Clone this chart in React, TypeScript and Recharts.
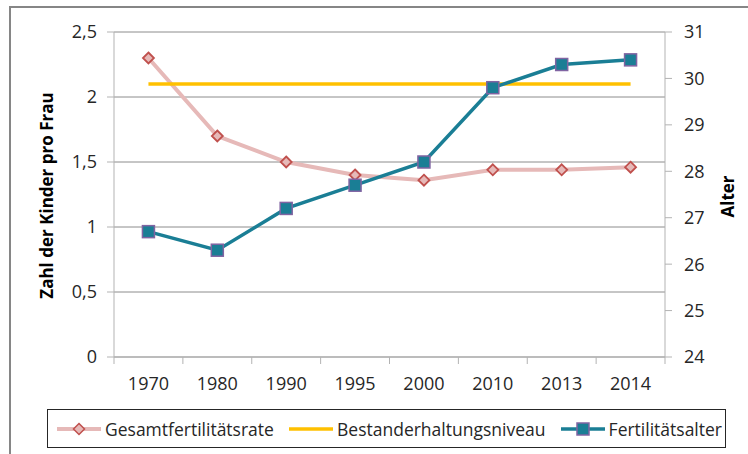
import { ComposedChart, Line, XAxis, YAxis, CartesianGrid } from "recharts";

const years = ["1970", "1980", "1990", "1995", "2000", "2010", "2013", "2014"];
const gesamtfertilitaetsrate = [2.3, 1.7, 1.5, 1.4, 1.36, 1.44, 1.44, 1.46];
const bestanderhaltungsniveau = [2.1, 2.1, 2.1, 2.1, 2.1, 2.1, 2.1, 2.1];
const fertilitaetsalter = [26.7, 26.3, 27.2, 27.7, 28.2, 29.8, 30.3, 30.4];
const leftTicks = [0, 0.5, 1, 1.5, 2, 2.5];
const rightTicks = [24, 25, 26, 27, 28, 29, 30, 31];

const data = years.map((year, i) => ({
  year,
  rate: gesamtfertilitaetsrate[i],
  level: bestanderhaltungsniveau[i],
  age: fertilitaetsalter[i],
}));

const FONT = "'Open Sans', sans-serif";
const PINK = "#E6B9B8";
const RED = "#C0504D";
const YELLOW = "#FFC000";
const TEAL = "#1A7E95";
const PURPLE = "#8064A2";
const AXIS = "#B3B3B3";

const band = 551 / years.length;

const XTick = (props: any) => {
  const { x, y, payload, index } = props;
  return (
    <g>
      <line x1={x - band / 2} x2={x - band / 2} y1={y} y2={y + 7} stroke={AXIS} />
      {index === years.length - 1 && (
        <line x1={x + band / 2} x2={x + band / 2} y1={y} y2={y + 7} stroke={AXIS} />
      )}
      <text x={x} y={y + 33} textAnchor="middle" fill="#262626" fontSize={18} fontFamily={FONT}>
        {payload.value}
      </text>
    </g>
  );
};

const Diamond = (props: any) => {
  const { cx, cy, index } = props;
  return (
    <path
      key={`d-${index}`}
      d={`M${cx},${cy - 5.5} L${cx + 5.5},${cy} L${cx},${cy + 5.5} L${cx - 5.5},${cy} Z`}
      fill={PINK}
      stroke={RED}
      strokeWidth={1.8}
    />
  );
};

const Square = (props: any) => {
  const { cx, cy, index } = props;
  return (
    <rect key={`s-${index}`} x={cx - 6} y={cy - 6} width={12} height={12} fill={TEAL} stroke={PURPLE} strokeWidth={1.5} />
  );
};

const fmt = (v: number) => String(v).replace(".", ",");

const LegendItem = ({ color, width, marker, label }: any) => (
  <div style={{ display: "flex", alignItems: "center" }}>
    <svg width={46} height={14} style={{ marginRight: 3 }}>
      <line x1={1} x2={45} y1={7} y2={7} stroke={color} strokeWidth={width} />
      {marker === "diamond" && <path d="M23,1.5 L28.5,7 L23,12.5 L17.5,7 Z" fill={PINK} stroke={RED} strokeWidth={1.5} />}
      {marker === "square" && <rect x={17} y={1} width={12} height={12} fill={TEAL} stroke={PURPLE} strokeWidth={1.5} />}
    </svg>
    <span>{label}</span>
  </div>
);

export default function App() {
  return (
    <div style={{ position: "absolute", left: 0, top: 0, width: 748, height: 454, background: "#fff", overflow: "hidden", fontFamily: FONT }}>
      <div style={{ position: "absolute", left: 9, top: 6, width: 760, height: 470, border: "2px solid #868686" }} />
      <ComposedChart
        width={748}
        height={454}
        data={data}
        margin={{ top: 32, right: 23, left: 54, bottom: 57 }}
        style={{ position: "absolute", left: 0, top: 0 }}
      >
        <CartesianGrid yAxisId="left" vertical={false} stroke="#8C8C8C" />
        <XAxis
          dataKey="year"
          scale="band"
          interval={0}
          tickSize={0}
          tickMargin={0}
          tickLine={false}
          height={40}
          stroke={AXIS}
          tick={<XTick />}
        />
        <YAxis
          yAxisId="left"
          domain={[0, 2.5]}
          ticks={leftTicks}
          tickFormatter={fmt}
          width={60}
          stroke={AXIS}
          tickSize={7}
          tickMargin={10}
          tick={{ fill: "#262626", fontSize: 18, fontFamily: FONT }}
        />
        <YAxis
          yAxisId="right"
          orientation="right"
          domain={[24, 31]}
          ticks={rightTicks}
          width={60}
          stroke={AXIS}
          tickSize={7}
          tickMargin={12}
          tick={{ fill: "#262626", fontSize: 18, fontFamily: FONT }}
        />
        <Line yAxisId="left" dataKey="rate" stroke={PINK} strokeWidth={4} dot={<Diamond />} activeDot={false} isAnimationActive={false} />
        <Line yAxisId="left" dataKey="level" stroke={YELLOW} strokeWidth={3.5} dot={false} activeDot={false} isAnimationActive={false} />
        <Line yAxisId="right" dataKey="age" stroke={TEAL} strokeWidth={3.5} dot={<Square />} activeDot={false} isAnimationActive={false} />
      </ComposedChart>
      <div
        style={{
          position: "absolute",
          left: 46,
          top: 195,
          width: 0,
          height: 0,
          display: "flex",
          alignItems: "center",
          justifyContent: "center",
        }}
      >
        <div style={{ transform: "rotate(-90deg)", whiteSpace: "nowrap", fontWeight: 700, fontSize: 17, color: "#000" }}>
          Zahl der Kinder pro Frau
        </div>
      </div>
      <div
        style={{
          position: "absolute",
          left: 727,
          top: 196,
          width: 0,
          height: 0,
          display: "flex",
          alignItems: "center",
          justifyContent: "center",
        }}
      >
        <div style={{ transform: "rotate(-90deg)", whiteSpace: "nowrap", fontWeight: 700, fontSize: 17, color: "#000" }}>
          Alter
        </div>
      </div>
      <div
        style={{
          position: "absolute",
          left: 47,
          top: 409,
          width: 679,
          height: 39,
          border: "1px solid #262626",
          boxSizing: "border-box",
          display: "flex",
          alignItems: "center",
          justifyContent: "space-between",
          padding: "0 3px 0 8px",
          fontSize: 17.5,
          color: "#262626",
        }}
      >
        <LegendItem color={PINK} width={4} marker="diamond" label="Gesamtfertilitätsrate" />
        <LegendItem color={YELLOW} width={3.5} label="Bestanderhaltungsniveau" />
        <LegendItem color={TEAL} width={3.5} marker="square" label="Fertilitätsalter" />
      </div>
    </div>
  );
}
